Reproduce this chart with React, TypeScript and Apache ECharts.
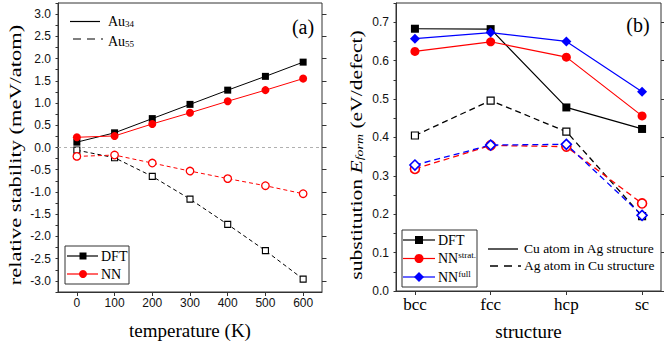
import React, { useEffect, useRef } from "react";
import * as echarts from "echarts";

// ---------- Panel (a) data ----------
const temps = [0, 100, 200, 300, 400, 500, 600];
const au34DFT = [0.12, 0.33, 0.65, 0.97, 1.29, 1.6, 1.92];
const au34NN = [0.23, 0.26, 0.53, 0.78, 1.04, 1.29, 1.55];
const au55DFT = [-0.06, -0.23, -0.65, -1.16, -1.73, -2.32, -2.96];
const au55NN = [-0.2, -0.17, -0.35, -0.53, -0.7, -0.86, -1.04];
const yTicksA = [-3, -2.5, -2, -1.5, -1, -0.5, 0, 0.5, 1, 1.5, 2, 2.5, 3];

// ---------- Panel (b) data ----------
const structures = ["bcc", "fcc", "hcp", "sc"];
const structIdx = [0, 1, 2, 3];
const cuInAgDFT = [0.683, 0.682, 0.478, 0.422];
const cuInAgStrat = [0.624, 0.649, 0.609, 0.456];
const cuInAgFull = [0.657, 0.673, 0.65, 0.519];
const agInCuDFT = [0.405, 0.496, 0.415, 0.195];
const agInCuStrat = [0.318, 0.379, 0.376, 0.228];
const agInCuFull = [0.328, 0.38, 0.382, 0.197];
const yTicksB = [0, 0.1, 0.2, 0.3, 0.4, 0.5, 0.6, 0.7];

const SERIF = "'Liberation Serif', 'Times New Roman', serif";
const SANS = "'Liberation Sans', Arial, sans-serif";
const RED = "#ff0000";
const BLUE = "#0000ff";
const AXC = "#333";

const pairs = (xs: number[], ys: number[]) => xs.map((x, i) => [x, ys[i]]);
const isMult = (v: number, step: number) => Math.abs(v / step - Math.round(v / step)) < 1e-6;

export default function App() {
  const ref = useRef<HTMLDivElement>(null);
  useEffect(() => {
    if (!ref.current) return;
    const chart = echarts.init(ref.current, null, { renderer: "svg" });

    const axisLine = { show: true, onZero: false, lineStyle: { color: AXC, width: 1 } };
    const tickLabel = { color: "#111", fontFamily: SANS, fontSize: 12 };

    const legendRow = (y: number, x0: number, x1: number, color: string, marker: any, label: any) => [
      { type: "line", shape: { x1: x0, y1: y, x2: x1, y2: y }, style: { stroke: color, lineWidth: 1.2 } },
      marker,
      label,
    ];

    const richMain = (size: number, lh: number) => ({ fontSize: size, fontFamily: SERIF, fill: "#000", lineHeight: lh, verticalAlign: "middle" });

    const graphic: any[] = [
      // Panel (a) line-style legend
      { type: "line", shape: { x1: 70, y1: 21.5, x2: 100, y2: 21.5 }, style: { stroke: "#000", lineWidth: 1.2 } },
      { type: "line", shape: { x1: 73, y1: 39, x2: 103, y2: 39 }, style: { stroke: "#000", lineWidth: 1.2, lineDash: [8, 6] } },
      {
        type: "text", x: 108, y: 21,
        style: { text: "{m|Au}{s|34}", verticalAlign: "middle", align: "left",
          rich: { m: richMain(14, 14), s: { fontSize: 9, fontFamily: SERIF, fill: "#000", lineHeight: 4, verticalAlign: "bottom" } } },
      },
      {
        type: "text", x: 108, y: 41,
        style: { text: "{m|Au}{s|55}", verticalAlign: "middle", align: "left",
          rich: { m: richMain(14, 14), s: { fontSize: 9, fontFamily: SERIF, fill: "#000", lineHeight: 4, verticalAlign: "bottom" } } },
      },
      // Panel (a) label
      { type: "text", x: 303, y: 27, style: { text: "(a)", font: `20px ${SERIF}`, fill: "#000", align: "center", verticalAlign: "middle" } },
      // Panel (a) boxed legend
      { type: "rect", shape: { x: 65, y: 246, width: 64, height: 38 }, style: { fill: "#fff", stroke: AXC, lineWidth: 1 } },
      ...legendRow(256, 67, 98, "#000",
        { type: "rect", shape: { x: 79.5, y: 252.5, width: 7, height: 7 }, style: { fill: "#000" } },
        { type: "text", x: 101, y: 256, style: { text: "DFT", font: `14px ${SERIF}`, fill: "#000", verticalAlign: "middle" } }),
      ...legendRow(274, 67, 98, RED,
        { type: "circle", shape: { cx: 83, cy: 274, r: 4 }, style: { fill: RED } },
        { type: "text", x: 101, y: 274, style: { text: "NN", font: `14px ${SERIF}`, fill: "#000", verticalAlign: "middle" } }),
      // Panel (a) y title
      {
        type: "text", x: 15, y: 155, rotation: Math.PI / 2, scaleX: 1.32,
        style: { text: "relative stability (meV/atom)", font: `17px ${SERIF}`, fill: "#000", align: "center", verticalAlign: "middle" },
      },

      // Panel (b) label
      { type: "text", x: 638, y: 25, style: { text: "(b)", font: `20px ${SERIF}`, fill: "#000", align: "center", verticalAlign: "middle" } },
      // Panel (b) boxed legend
      { type: "rect", shape: { x: 402, y: 230, width: 75, height: 57 }, style: { fill: "#fff", stroke: AXC, lineWidth: 1 } },
      ...legendRow(240, 403, 435, "#000",
        { type: "rect", shape: { x: 415, y: 236, width: 8, height: 8 }, style: { fill: "#000" } },
        { type: "text", x: 438, y: 240, style: { text: "DFT", font: `14px ${SERIF}`, fill: "#000", verticalAlign: "middle" } }),
      ...legendRow(258.5, 403, 435, RED,
        { type: "circle", shape: { cx: 419, cy: 258.5, r: 4.5 }, style: { fill: RED } },
        { type: "text", x: 438, y: 258.5, style: { text: "{m|NN}{p|strat.}", verticalAlign: "middle",
          rich: { m: richMain(14, 16), p: { fontSize: 9, fontFamily: SERIF, fill: "#000", lineHeight: 4, verticalAlign: "top" } } } }),
      ...legendRow(277, 403, 435, BLUE,
        { type: "polygon", shape: { points: [[419, 272], [424, 277], [419, 282], [414, 277]] }, style: { fill: BLUE } },
        { type: "text", x: 438, y: 277, style: { text: "{m|NN}{p|full}", verticalAlign: "middle",
          rich: { m: richMain(14, 16), p: { fontSize: 9, fontFamily: SERIF, fill: "#000", lineHeight: 4, verticalAlign: "top" } } } }),
      // Panel (b) line-style legend
      { type: "line", shape: { x1: 488, y1: 249, x2: 518, y2: 249 }, style: { stroke: "#000", lineWidth: 1.3 } },
      { type: "line", shape: { x1: 490, y1: 266, x2: 521, y2: 266 }, style: { stroke: "#000", lineWidth: 1.3, lineDash: [8, 6] } },
      { type: "text", x: 524, y: 248, style: { text: "Cu atom in Ag structure", font: `13.5px ${SERIF}`, fill: "#000", verticalAlign: "middle" } },
      { type: "text", x: 524, y: 265, style: { text: "Ag atom in Cu structure", font: `13.5px ${SERIF}`, fill: "#000", verticalAlign: "middle" } },
      // Panel (b) y title
      {
        type: "text", x: 356, y: 155, rotation: Math.PI / 2, scaleX: 1.27,
        style: {
          text: "{m|substitution }{i|E}{s|form}{m| (eV/defect)}", align: "center", verticalAlign: "middle",
          rich: {
            m: richMain(17, 18),
            i: { ...richMain(17, 18), fontStyle: "italic" },
            s: { fontSize: 11, fontFamily: SERIF, fontStyle: "italic", fill: "#000", lineHeight: 4, verticalAlign: "bottom" },
          },
        },
      },
    ];

    const solid = (name: string, data: number[][], color: string, symbol: string, size: number, w = 1, xi = 0, yi = 0) => ({
      name, type: "line", xAxisIndex: xi, yAxisIndex: yi, data, symbol, symbolSize: size,
      itemStyle: { color, borderColor: color, borderWidth: 0 },
      lineStyle: { color, width: w },
      emphasis: { disabled: true },
    });
    const open = (name: string, data: number[][], color: string, symbol: string, size: number, dash: number[], w = 1, bw = 1.2, xi = 0, yi = 0) => ({
      name, type: "line", xAxisIndex: xi, yAxisIndex: yi, data, symbol, symbolSize: size,
      itemStyle: { color: "#fff", borderColor: color, borderWidth: bw },
      lineStyle: { color, width: w, type: dash },
      emphasis: { disabled: true },
    });

    const option: any = {
      animation: false,
      grid: [
        { left: 58, top: 3, width: 264, height: 289, show: true, borderColor: AXC, borderWidth: 1, backgroundColor: "transparent" },
        { left: 396, top: 3, width: 265, height: 289, show: true, borderColor: AXC, borderWidth: 1, backgroundColor: "transparent" },
      ],
      xAxis: [
        {
          gridIndex: 0, type: "value", min: -50, max: 650,
          axisLine: axisLine, splitLine: { show: false },
          axisTick: { customValues: temps, length: 4, lineStyle: { color: AXC } },
          axisLabel: { ...tickLabel, customValues: temps, margin: 5 },
          name: "temperature (K)", nameLocation: "middle", nameGap: 29,
          nameTextStyle: { fontFamily: SERIF, fontSize: 19, color: "#000" },
        },
        {
          gridIndex: 1, type: "value", min: -0.25, max: 3.25,
          axisLine: axisLine, splitLine: { show: false },
          axisTick: { customValues: structIdx, length: 4, lineStyle: { color: AXC } },
          axisLabel: { customValues: structIdx, margin: 5, fontFamily: SERIF, fontSize: 17, color: "#000",
            formatter: (v: number) => structures[Math.round(v)] ?? "" },
          name: "structure", nameLocation: "middle", nameGap: 31,
          nameTextStyle: { fontFamily: SERIF, fontSize: 19, color: "#000" },
        },
      ],
      yAxis: [
        {
          gridIndex: 0, type: "value", min: -3.25, max: 3.25, interval: 0.25,
          axisLine: axisLine, splitLine: { show: false },
          axisTick: { length: 2.5, lineStyle: { color: AXC } },
          axisLabel: { ...tickLabel, margin: 7, formatter: (v: number) => (isMult(v, 0.5) ? v.toFixed(1) : "") },
        },
        {
          gridIndex: 0, type: "value", min: -3.25, max: 3.25,
          axisLine: { show: false, onZero: false }, splitLine: { show: false }, axisLabel: { show: false },
          axisTick: { customValues: yTicksA, length: 4.5, lineStyle: { color: AXC } },
        },
        {
          gridIndex: 1, type: "value", min: 0, max: 0.75, interval: 0.05,
          axisLine: axisLine, splitLine: { show: false },
          axisTick: { length: 2.5, lineStyle: { color: AXC } },
          axisLabel: { ...tickLabel, margin: 7, formatter: (v: number) => (isMult(v, 0.1) && v < 0.72 ? v.toFixed(1) : "") },
        },
        {
          gridIndex: 1, type: "value", min: 0, max: 0.75,
          axisLine: { show: false, onZero: false }, splitLine: { show: false }, axisLabel: { show: false },
          axisTick: { customValues: yTicksB, length: 4.5, lineStyle: { color: AXC } },
        },
      ],
      series: [
        {
          ...open("Au55 DFT", pairs(temps, au55DFT), "#000", "rect", 6, [4, 3], 1, 1.1),
          markLine: {
            silent: true, symbol: ["none", "none"], label: { show: false },
            lineStyle: { color: "#b0b0b0", type: [3, 3], width: 1 },
            data: [{ yAxis: 0 }],
          },
        },
        open("Au55 NN", pairs(temps, au55NN), RED, "circle", 7.5, [4, 3], 1, 1.3),
        solid("Au34 DFT", pairs(temps, au34DFT), "#000", "rect", 7),
        solid("Au34 NN", pairs(temps, au34NN), RED, "circle", 8),

        open("Ag in Cu DFT", pairs(structIdx, agInCuDFT), "#000", "rect", 7, [6, 4], 1.3, 1.2, 1, 2),
        open("Ag in Cu NN strat", pairs(structIdx, agInCuStrat), RED, "circle", 9, [6, 4], 1.3, 1.6, 1, 2),
        open("Ag in Cu NN full", pairs(structIdx, agInCuFull), BLUE, "diamond", 10, [6, 4], 1.3, 1.6, 1, 2),
        solid("Cu in Ag DFT", pairs(structIdx, cuInAgDFT), "#000", "rect", 8, 1.2, 1, 2),
        solid("Cu in Ag NN strat", pairs(structIdx, cuInAgStrat), RED, "circle", 9, 1.2, 1, 2),
        solid("Cu in Ag NN full", pairs(structIdx, cuInAgFull), BLUE, "diamond", 10, 1.2, 1, 2),
      ],
      graphic,
    };

    chart.setOption(option);
    return () => chart.dispose();
  }, []);

  return <div ref={ref} style={{ position: "absolute", left: 0, top: 0, width: 664, height: 346, background: "#fff" }} />;
}
